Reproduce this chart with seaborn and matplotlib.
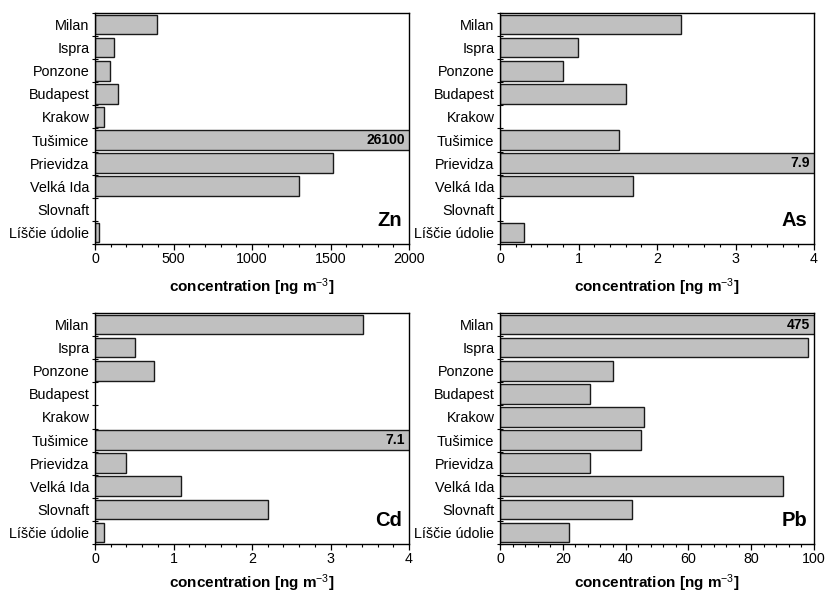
import numpy as np
import pandas as pd
import matplotlib
matplotlib.use("Agg")
import matplotlib.pyplot as plt
import seaborn as sns
from matplotlib.ticker import AutoMinorLocator, FixedLocator

sites = ["Milan", "Ispra", "Ponzone", "Budapest", "Krakow", "Tušimice",
         "Prievidza", "Velká Ida", "Slovnaft", "Líščie údolie"]
nan = np.nan
zn = [392, 121, 98, 148, 59, 26100, 1516, 1298, nan, 28]
as_ = [2.30, 0.99, 0.80, 1.60, nan, 1.51, 7.9, 1.70, nan, 0.30]
cd = [3.41, 0.51, 0.75, nan, nan, 7.1, 0.40, 1.10, 2.21, 0.11]
pb = [475, 98.2, 36, 28.8, 46, 45, 28.8, 90.1, 42, 22]

panels = [
    ("Zn", zn, 2000, 500, ["0", "500", "1000", "1500", "2000"]),
    ("As", as_, 4, 1, ["0", "1", "2", "3", "4"]),
    ("Cd", cd, 4, 1, ["0", "1", "2", "3", "4"]),
    ("Pb", pb, 100, 20, ["0", "20", "40", "60", "80", "100"]),
]

sns.set_theme(style="white")
plt.rcParams["font.family"] = ["Liberation Sans", "DejaVu Sans"]
plt.rcParams["mathtext.fontset"] = "custom"
plt.rcParams["mathtext.rm"] = "Liberation Sans"
plt.rcParams["mathtext.it"] = "Liberation Sans:italic"
plt.rcParams["mathtext.bf"] = "Liberation Sans:bold"
for k in ["text.color", "axes.labelcolor", "xtick.color", "ytick.color",
          "axes.edgecolor"]:
    plt.rcParams[k] = "black"

fig = plt.figure(figsize=(8.27, 5.96), dpi=100)
W, H = 827, 596
boxes = [(95, 13), (500, 13), (95, 313), (500, 313)]
aw, ah = 314, 231

for idx, ((name, vals, xmax, step, labels), (lx, ty)) in enumerate(zip(panels, boxes)):
    ax = fig.add_axes([lx / W, 1 - (ty + ah) / H, aw / W, ah / H])
    df = pd.DataFrame({"site": sites, "value": vals})
    sns.barplot(data=df, x="value", y="site", order=sites, orient="h",
                color="#c0c0c0", saturation=1, edgecolor="#1a1a1a",
                linewidth=1.0, width=0.85, ax=ax, errorbar=None)
    ax.set_xlim(0, xmax)
    ax.set_ylim(len(sites) - 0.5, -0.5)
    ax.set_xticks(np.arange(0, xmax + step / 2, step))
    ax.set_xticklabels(labels)
    ax.xaxis.set_minor_locator(AutoMinorLocator(5))
    ax.yaxis.set_minor_locator(FixedLocator(np.arange(-0.5, len(sites), 1.0)))
    ax.tick_params(axis="x", which="major", direction="out", length=4,
                   width=0.9, colors="black", labelsize=10.3, pad=2,
                   bottom=True)
    ax.tick_params(axis="x", which="minor", direction="out", length=2.5,
                   width=0.8, color="black", bottom=True)
    ax.tick_params(axis="y", which="major", length=0, labelsize=10.4, pad=4,
                   colors="black")
    ax.tick_params(axis="y", which="minor", direction="inout", length=4,
                   width=0.8, color="black", left=True)
    for s in ax.spines.values():
        s.set_visible(True)
        s.set_color("black")
        s.set_linewidth(1.0)
    ax.set_ylabel("")
    ax.set_xlabel(r"concentration [ng m$^{-3}$]", fontsize=11,
                  fontweight="bold", labelpad=7 if idx < 2 else 4.5)
    ax.text(0.978, 0.1, name, transform=ax.transAxes, ha="right",
            va="center", fontsize=14.5, fontweight="bold")
    for i, v in enumerate(vals):
        if not np.isnan(v) and v > xmax:
            txt = f"{v:g}"
            ax.text(0.988, i, txt, transform=ax.get_yaxis_transform(),
                    ha="right", va="center", fontsize=10,
                    fontweight="bold")

fig.savefig("out.png", dpi=100)
